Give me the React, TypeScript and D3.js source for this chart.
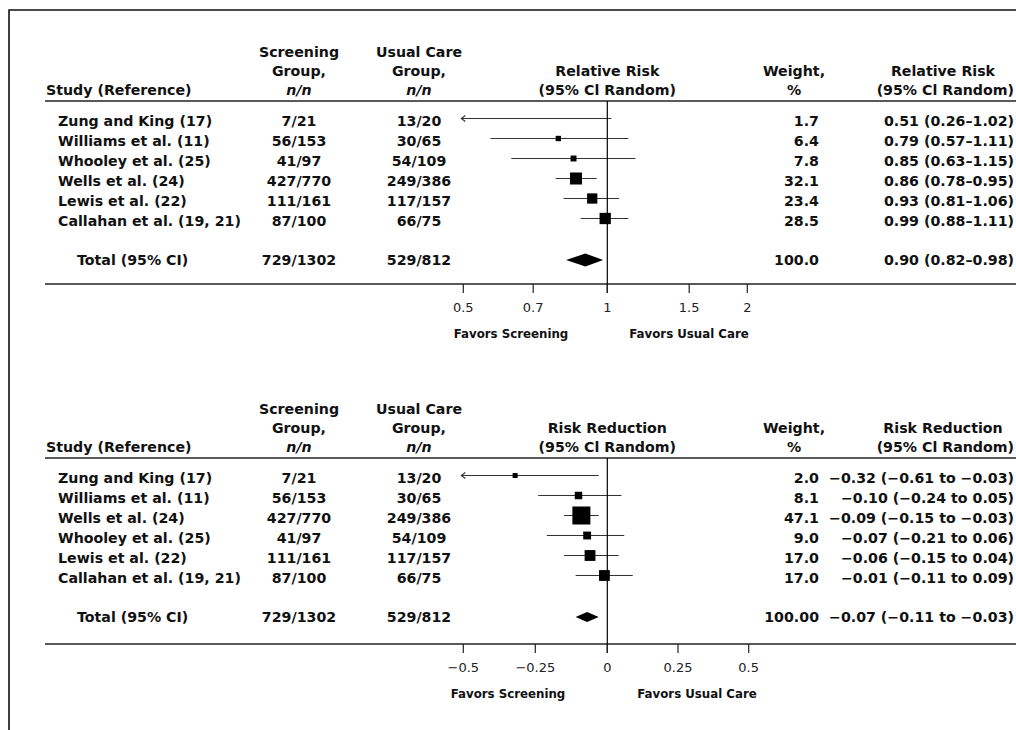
import React from "react";
import * as d3 from "d3";

// ---------- Data: Relative risk panel ----------
const rrStudies = ["Zung and King (17)", "Williams et al. (11)", "Whooley et al. (25)", "Wells et al. (24)", "Lewis et al. (22)", "Callahan et al. (19, 21)"];
const rrScreening = ["7/21", "56/153", "41/97", "427/770", "111/161", "87/100"];
const rrUsual = ["13/20", "30/65", "54/109", "249/386", "117/157", "66/75"];
const rrWeights = [1.7, 6.4, 7.8, 32.1, 23.4, 28.5];
const rrEst = [0.51, 0.79, 0.85, 0.86, 0.93, 0.99];
const rrLo = [0.26, 0.57, 0.63, 0.78, 0.81, 0.88];
const rrHi = [1.02, 1.11, 1.15, 0.95, 1.06, 1.11];
const rrTotal = { screening: "729/1302", usual: "529/812", weight: "100.0", est: 0.9, lo: 0.82, hi: 0.98 };
const rrTicks = [0.5, 0.7, 1, 1.5, 2];
const rrTickLabels = ["0.5", "0.7", "1", "1.5", "2"];

// ---------- Data: Risk reduction panel ----------
const rdStudies = ["Zung and King (17)", "Williams et al. (11)", "Wells et al. (24)", "Whooley et al. (25)", "Lewis et al. (22)", "Callahan et al. (19, 21)"];
const rdScreening = ["7/21", "56/153", "427/770", "41/97", "111/161", "87/100"];
const rdUsual = ["13/20", "30/65", "249/386", "54/109", "117/157", "66/75"];
const rdWeights = [2.0, 8.1, 47.1, 9.0, 17.0, 17.0];
const rdEst = [-0.32, -0.1, -0.09, -0.07, -0.06, -0.01];
const rdLo = [-0.61, -0.24, -0.15, -0.21, -0.15, -0.11];
const rdHi = [-0.03, 0.05, -0.03, 0.06, 0.04, 0.09];
const rdTotal = { screening: "729/1302", usual: "529/812", weight: "100.00", est: -0.07, lo: -0.11, hi: -0.03 };
const rdTicks = [-0.5, -0.25, 0, 0.25, 0.5];
const rdTickLabels = ["\u22120.5", "\u22120.25", "0", "0.25", "0.5"];

const FONT = "'DejaVu Sans', Verdana, sans-serif";
const INK = "#111";

const f2 = d3.format(".2f");
const f1 = d3.format(".1f");
const rrLabel = (e: number, l: number, h: number) => `${f2(e)} (${f2(l)}\u2013${f2(h)})`;
const rdLabel = (e: number, l: number, h: number) => `${f2(e)} (${f2(l)} to ${f2(h)})`;

type PanelProps = {
  y0: number;
  measure: string;
  studies: string[];
  screening: string[];
  usual: string[];
  weights: number[];
  est: number[];
  lo: number[];
  hi: number[];
  total: { screening: string; usual: string; weight: string; est: number; lo: number; hi: number };
  x: (v: number) => number;
  domainMin: number;
  ticks: number[];
  tickLabels: string[];
  label: (e: number, l: number, h: number) => string;
  maxSq: number;
  diamondH: number;
  sepY: number;
  ref: number;
  favL: number;
  favR: number;
};

function Panel(p: PanelProps) {
  const { y0 } = p;
  const rowBase = (i: number) => y0 + 126 + 20 * i;
  const totalBase = y0 + 265;
  const sep = y0 + p.sepY;
  const sq = d3.scaleSqrt().domain([0, d3.max(p.weights) as number]).range([0, p.maxSq]);
  const xRef = p.x(p.ref);
  const xMin = p.x(p.domainMin);
  const bold = { fontFamily: FONT, fontWeight: 700, fontSize: 14.2, fill: INK } as const;
  const colS = 299;
  const colU = 419;
  const colW = 819;
  const colR = 1014;
  return (
    <g>
      {/* header */}
      <text x={colS} y={y0 + 57} textAnchor="middle" style={bold}>Screening</text>
      <text x={colS} y={y0 + 76} textAnchor="middle" style={bold}>Group,</text>
      <text x={colS} y={y0 + 95} textAnchor="middle" style={{ ...bold, fontStyle: "italic" }}>n/n</text>
      <text x={colU} y={y0 + 57} textAnchor="middle" style={bold}>Usual Care</text>
      <text x={colU} y={y0 + 76} textAnchor="middle" style={bold}>Group,</text>
      <text x={colU} y={y0 + 95} textAnchor="middle" style={{ ...bold, fontStyle: "italic" }}>n/n</text>
      <text x={46} y={y0 + 95} style={bold}>Study (Reference)</text>
      <text x={xRef} y={y0 + 76} textAnchor="middle" style={bold}>{p.measure}</text>
      <text x={xRef} y={y0 + 95} textAnchor="middle" style={bold}>(95% Cl Random)</text>
      <text x={794} y={y0 + 76} textAnchor="middle" style={bold}>Weight,</text>
      <text x={794} y={y0 + 95} textAnchor="middle" style={bold}>%</text>
      <text x={943} y={y0 + 76} textAnchor="middle" style={bold}>{p.measure}</text>
      <text x={colR} y={y0 + 95} textAnchor="end" style={bold}>(95% Cl Random)</text>
      <line x1={45} x2={1016} y1={y0 + 101} y2={y0 + 101} stroke="#222" strokeWidth={1.5} />

      {/* rows */}
      {p.studies.map((s, i) => {
        const b = rowBase(i);
        const cy = b - 7.5;
        const clipped = p.lo[i] < p.domainMin;
        const xl = clipped ? xMin - 2 : p.x(p.lo[i]);
        const xh = p.x(p.hi[i]);
        const xe = p.x(p.est[i]);
        const size = Math.max(5, sq(p.weights[i]));
        const showSq = !(clipped && xe - xl < 8);
        return (
          <g key={s}>
            <text x={58} y={b} style={bold}>{s}</text>
            <text x={colS} y={b} textAnchor="middle" style={bold}>{p.screening[i]}</text>
            <text x={colU} y={b} textAnchor="middle" style={bold}>{p.usual[i]}</text>
            <text x={colW} y={b} textAnchor="end" style={bold}>{f1(p.weights[i])}</text>
            <text x={colR} y={b} textAnchor="end" style={bold}>{p.label(p.est[i], p.lo[i], p.hi[i])}</text>
            <line x1={xl} x2={xh} y1={cy} y2={cy} stroke="#333" strokeWidth={1.2} />
            {clipped && (
              <path d={`M${xl + 4},${cy - 3} L${xl},${cy} L${xl + 4},${cy + 3}`} fill="none" stroke="#333" strokeWidth={1.1} />
            )}
            {showSq && <rect x={xe - size / 2} y={cy - size / 2} width={size} height={size} fill="#000" />}
          </g>
        );
      })}

      {/* total */}
      <text x={77} y={totalBase} style={bold}>Total (95% CI)</text>
      <text x={colS} y={totalBase} textAnchor="middle" style={bold}>{p.total.screening}</text>
      <text x={colU} y={totalBase} textAnchor="middle" style={bold}>{p.total.usual}</text>
      <text x={colW} y={totalBase} textAnchor="end" style={bold}>{p.total.weight}</text>
      <text x={colR} y={totalBase} textAnchor="end" style={bold}>{p.label(p.total.est, p.total.lo, p.total.hi)}</text>
      {(() => {
        const cy = totalBase - 5;
        const h = p.diamondH / 2;
        const xl = p.x(p.total.lo), xh = p.x(p.total.hi), xe = p.x(p.total.est);
        return <path d={`M${xl},${cy} L${xe},${cy - h} L${xh},${cy} L${xe},${cy + h} Z`} fill="#000" />;
      })()}

      {/* separator & axis */}
      <line x1={45} x2={1016} y1={sep} y2={sep} stroke="#222" strokeWidth={1.5} />
      <line x1={xRef} x2={xRef} y1={y0 + 101} y2={sep + 9} stroke="#000" strokeWidth={1.2} />
      {p.ticks.map((t, i) => (
        <g key={t}>
          <line x1={p.x(t)} x2={p.x(t)} y1={sep} y2={sep + 9} stroke="#222" strokeWidth={1.2} />
          <text x={p.x(t)} y={sep + 28} textAnchor="middle" style={{ fontFamily: FONT, fontSize: 13, fill: "#222" }}>{p.tickLabels[i]}</text>
        </g>
      ))}
      <text x={p.favL} y={sep + 54} textAnchor="middle" style={{ fontFamily: FONT, fontWeight: 700, fontSize: 11.8, fill: INK }}>Favors Screening</text>
      <text x={p.favR} y={sep + 54} textAnchor="middle" style={{ fontFamily: FONT, fontWeight: 700, fontSize: 11.8, fill: INK }}>Favors Usual Care</text>
    </g>
  );
}

export default function App() {
  const xRR = d3.scaleLog().domain([0.5, 1, 2]).range([463.3, 607.3, 747.3]);
  const xRD = d3.scaleLinear().domain([-0.5, 0, 0.5]).range([463.3, 607.3, 748.7]);
  return (
    <svg width={1016} height={730} style={{ position: "absolute", left: 0, top: 0, display: "block", background: "#fff" }}>
      <rect x={0} y={0} width={1016} height={730} fill="#fff" />
      <path d="M9,730 V10 H1016" fill="none" stroke="#111" strokeWidth={1.6} />
      <Panel
        y0={0}
        measure="Relative Risk"
        studies={rrStudies}
        screening={rrScreening}
        usual={rrUsual}
        weights={rrWeights}
        est={rrEst}
        lo={rrLo}
        hi={rrHi}
        total={rrTotal}
        x={(v) => xRR(v)}
        domainMin={0.5}
        ticks={rrTicks}
        tickLabels={rrTickLabels}
        label={rrLabel}
        maxSq={12}
        diamondH={13}
        sepY={284}
        ref={1}
        favL={511}
        favR={689}
      />
      <Panel
        y0={357}
        measure="Risk Reduction"
        studies={rdStudies}
        screening={rdScreening}
        usual={rdUsual}
        weights={rdWeights}
        est={rdEst}
        lo={rdLo}
        hi={rdHi}
        total={rdTotal}
        x={(v) => xRD(v)}
        domainMin={-0.5}
        ticks={rdTicks}
        tickLabels={rdTickLabels}
        label={rdLabel}
        maxSq={18}
        diamondH={10}
        sepY={287}
        ref={0}
        favL={508}
        favR={697}
      />
    </svg>
  );
}
